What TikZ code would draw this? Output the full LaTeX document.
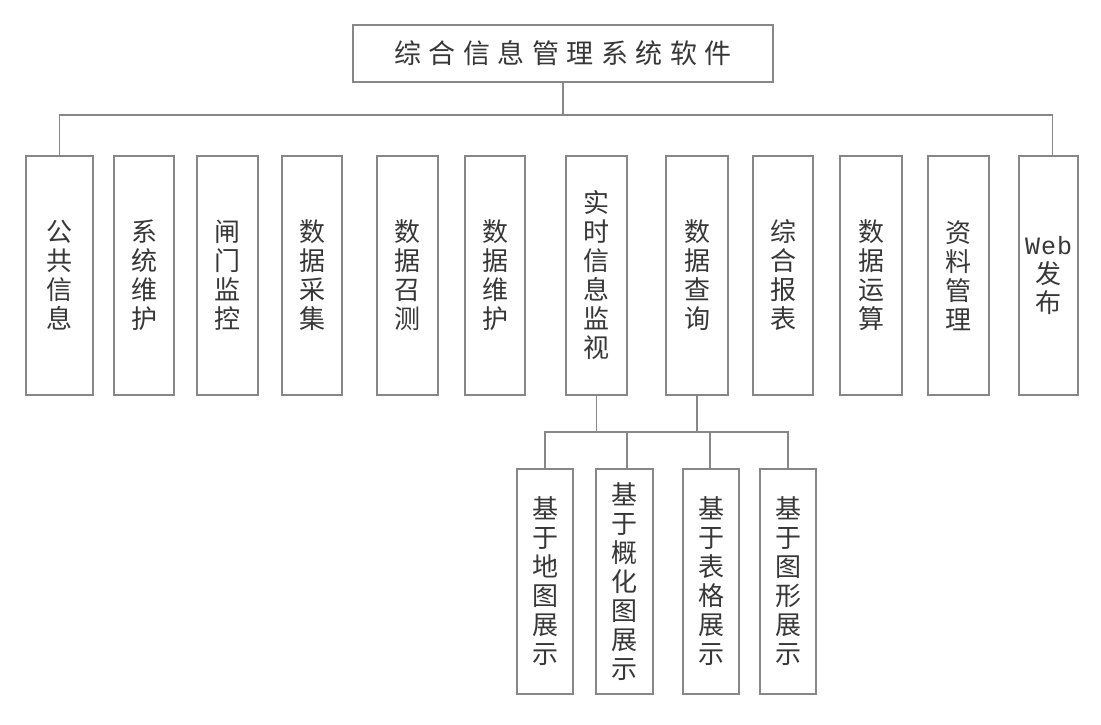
\documentclass[tikz,border=0pt]{standalone}
\usepackage{fontspec}
\newfontfamily\cjk{Noto Sans CJK SC}
\newfontfamily\webfont{Liberation Mono}
\definecolor{linec}{RGB}{135,135,135}
\definecolor{textc}{RGB}{55,55,55}
\newcommand{\ks}{\kern7.5pt}
\begin{document}
\begin{tikzpicture}[x=1pt,y=-1pt,
  box/.style={draw=linec, line width=1.6pt, fill=white, inner sep=0pt, align=center,
    text=textc, font={\cjk\fontsize{26}{29}\selectfont}},
  rowbox/.style={box, minimum height=239},
  subbox/.style={box, minimum height=225},
  conn/.style={draw=linec, line width=1.6pt}]
\useasboundingbox (0,0) rectangle (1101,724);
\fill[white] (0,0) rectangle (1101,724);

\node[box, minimum width=420, minimum height=57, font={\cjk\fontsize{27}{30}\selectfont}] (top) at (563,53.5)
  {综\ks 合\ks 信\ks 息\ks 管\ks 理\ks 系\ks 统\ks 软\ks 件};

\node[rowbox, minimum width=67] (b1)  at (59.5,275.5)  {公\\共\\信\\息};
\node[rowbox, minimum width=60] (b2)  at (144,275.5)   {系\\统\\维\\护};
\node[rowbox, minimum width=61] (b3)  at (227.5,275.5) {闸\\门\\监\\控};
\node[rowbox, minimum width=60] (b4)  at (312,275.5)   {数\\据\\采\\集};
\node[rowbox, minimum width=61] (b5)  at (407.5,275.5) {数\\据\\召\\测};
\node[rowbox, minimum width=60] (b6)  at (495,275.5)   {数\\据\\维\\护};
\node[rowbox, minimum width=61] (b7)  at (596.5,275.5) {实\\时\\信\\息\\监\\视};
\node[rowbox, minimum width=62] (b8)  at (697,275.5)   {数\\据\\查\\询};
\node[rowbox, minimum width=60] (b9)  at (783,275.5)   {综\\合\\报\\表};
\node[rowbox, minimum width=62] (b10) at (871,275.5)   {数\\据\\运\\算};
\node[rowbox, minimum width=61] (b11) at (958.5,275.5) {资\\料\\管\\理};
\node[rowbox, minimum width=59] (b12) at (1048.5,275.5) {{\webfont\fontsize{25}{29}\selectfont W\kern1pt e\kern1pt b}\\发\\布};

\node[subbox, minimum width=56] (c1) at (545,581.5)   {基\\于\\地\\图\\展\\示};
\node[subbox, minimum width=57] (c2) at (624.5,581.5) {基\\于\\概\\化\\图\\展\\示};
\node[subbox, minimum width=56] (c3) at (711,581.5)   {基\\于\\表\\格\\展\\示};
\node[subbox, minimum width=56] (c4) at (788,581.5)   {基\\于\\图\\形\\展\\示};

\coordinate (bus) at (563,115);
\coordinate (sub) at (600,432);

\draw[conn] (top.south) -- (top.south |- bus);
\draw[conn] (b1.north) -- (b1.north |- bus) -- ([xshift=4pt]b12.north |- bus) -- ([xshift=4pt]b12.north);

\draw[conn] (b7.south) -- (b7.south |- sub);
\draw[conn] (b8.south) -- (b8.south |- sub);
\draw[conn] (c1.north) -- (c1.north |- sub) -- (c4.north |- sub) -- (c4.north);
\draw[conn] ([xshift=2.5pt]c2.north) -- ([xshift=2.5pt]c2.north |- sub);
\draw[conn] ([xshift=-1pt]c3.north) -- ([xshift=-1pt]c3.north |- sub);
\end{tikzpicture}
\end{document}
